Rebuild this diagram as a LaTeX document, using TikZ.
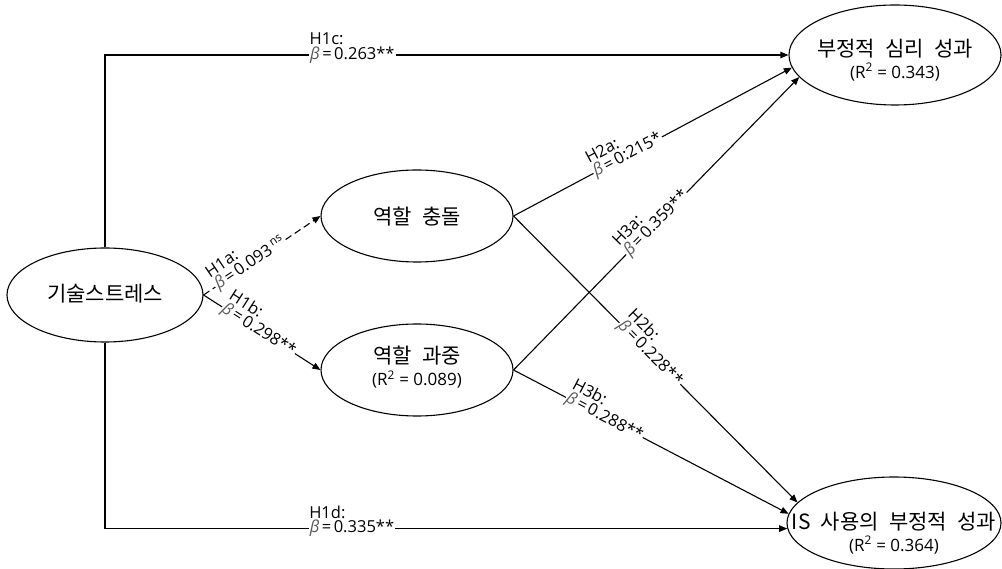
\documentclass[tikz,border=0pt]{standalone}
\usepackage{fontspec}
\setmainfont{Open Sans}
\newfontfamily\kr[WordSpace=2.2]{Noto Sans CJK KR}
\usetikzlibrary{shapes.geometric,arrows.meta,calc}
\definecolor{betagray}{gray}{0.35}
\newcommand\bt{{\color{betagray}\itshape β}}
\newcommand\eqs{\hspace{2.5pt}=\hspace{2.5pt}}
\newcommand\onekr[1]{{\kr\fontsize{21}{24}\selectfont #1}}
\newcommand\twokr[2]{{\fontsize{17}{21.5}\selectfont\begin{tabular}{@{}c@{}}{\kr\fontsize{21}{24}\selectfont #1}\\ (R\textsuperscript{2}\ =\ #2)\end{tabular}}}
\newcommand\pathlabel[6]{%
  \path let \p1=(#1), \p2=(#2), \n1={atan2(\y2-\y1,\x2-\x1)} in
    node[val, rotate=\n1] (v#4) at ($(#1)!#3!(#2)$) {#6}
    node[hyp, rotate=\n1, anchor=south west] (h#4) at (v#4.north west) {#5};}
\begin{document}
\begin{tikzpicture}[x=1pt,y=-1pt,
  ell/.style={ellipse, draw, line width=1.1pt, inner sep=0pt},
  txt/.style={inner sep=0pt},
  conn/.style={line width=1.1pt, -{Triangle[length=8pt,width=6.5pt]}},
  val/.style={fill=white, inner sep=1pt, font=\fontsize{16.5}{18}\selectfont},
  hyp/.style={inner sep=0.5pt, font=\fontsize{16.5}{18}\selectfont}]
\useasboundingbox (0,0) rectangle (1002,569);

\node[ell, minimum width=196pt, minimum height=94pt] (ts) at (105,295) {};
\node[ell, minimum width=192pt, minimum height=92pt] (rc) at (417,216) {};
\node[ell, minimum width=192pt, minimum height=92pt] (ro) at (417,370) {};
\node[ell, minimum width=212pt, minimum height=100pt] (ps) at (895,55) {};
\node[ell, minimum width=214pt, minimum height=92pt] (is) at (894,523) {};

\node[txt] (tst) at ([yshift=1pt]ts.center) {\onekr{기술스트레스}};
\node[txt] (rct) at ([yshift=-1pt]rc.center) {\onekr{역할 충돌}};
\node[txt] (rot) at ([yshift=1pt]ro.center) {\twokr{역할 과중}{0.089}};
\node[txt] (pst) at ([yshift=-7pt]ps.center) {\twokr{부정적 심리 성과}{0.343}};
\node[txt] (ist) at ([yshift=-12pt]is.center) {\twokr{IS 사용의 부정적 성과}{0.364}};

\draw[conn, dash pattern=on 7pt off 4pt] (ts.east) -- (rc.west);
\draw[conn] (ts.east) -- (ro.west);
\draw[conn] (ts.north) |- (ps.west);
\draw[conn] (ts.south) |- (is.183);
\draw[conn] (rc.east) -- (ps.187);
\draw[conn] (rc.east) -- (is.168);
\draw[conn] (ro.east) -- (ps.193);
\draw[conn] (ro.east) -- (is.175);

\coordinate (c1) at (ts.north |- ps.west);
\coordinate (c2) at (ts.south |- is.183);
\pathlabel{c1}{ps.west}{0.362}{1c}{H1c:}{\bt\eqs 0.263**}
\pathlabel{c2}{is.183}{0.362}{1d}{H1d:}{\bt\eqs 0.335**}
\pathlabel{ts.east}{rc.west}{0.40}{1a}{H1a:}{\bt\eqs 0.093\,\textsuperscript{ns}}
\pathlabel{ts.east}{ro.west}{0.47}{1b}{H1b:}{\bt\eqs 0.298**}
\pathlabel{rc.east}{ps.187}{0.41}{2a}{H2a:}{\bt\eqs 0:215*}
\pathlabel{ro.east}{ps.193}{0.50}{3a}{H3a:}{\bt\eqs 0.359**}
\pathlabel{rc.east}{is.168}{0.48}{2b}{H2b:}{\bt\eqs 0.228**}
\pathlabel{ro.east}{is.175}{0.33}{3b}{H3b:}{\bt\eqs 0.288**}
\end{tikzpicture}
\end{document}
